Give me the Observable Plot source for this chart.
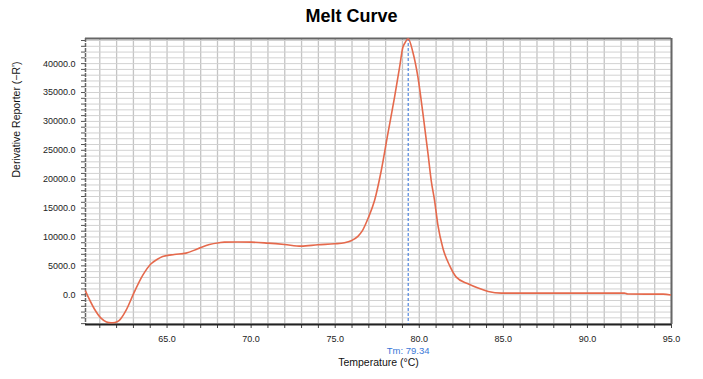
<!DOCTYPE html>
<html>
<head>
<meta charset="utf-8">
<script src="https://cdn.jsdelivr.net/npm/d3@7"></script>
<script src="https://cdn.jsdelivr.net/npm/@observablehq/plot@0.6"></script>
<style>
  html, body { margin: 0; padding: 0; background: #fff; }
  #title { width: 703px; height: 30px; box-sizing: border-box; padding-top: 7px;
    font: bold 18px "Liberation Sans", Arial, sans-serif; line-height: 18px;
    text-align: center; color: #000; }
  #chart svg { display: block; }
</style>
</head>
<body>
<div id="title">Melt Curve</div>
<div id="chart"></div>
<script>
// Temperature (°C) and derivative reporter values
const temps = [60.15, 60.67, 61.07, 61.4, 61.67, 61.9, 62.16, 62.56, 63.05, 63.55, 64.05, 64.4, 64.74, 65.43, 66.13, 66.83, 67.52, 68.1, 68.41, 69.2, 70.0, 71.0, 71.98, 72.98, 73.97, 74.96, 75.55, 75.95, 76.35, 76.6, 76.95, 77.34, 77.74, 78.13, 78.53, 78.83, 79.02, 79.15, 79.34, 79.62, 79.92, 80.22, 80.52, 80.71, 80.91, 81.11, 81.41, 81.8, 82.2, 82.9, 83.5, 84.1, 84.88, 87.86, 92.2, 92.4, 94.5, 95.0];
const deriv = [620, -2420, -4050, -4700, -4850, -4800, -4450, -2720, 450, 3340, 5360, 6100, 6620, 6970, 7200, 7960, 8700, 9000, 9100, 9120, 9100, 8930, 8700, 8410, 8650, 8820, 9000, 9350, 10100, 11000, 13200, 16300, 21500, 27850, 34200, 39400, 42800, 43600, 44300, 41970, 37650, 31300, 24400, 19770, 16300, 12000, 8000, 5070, 3050, 1900, 1150, 570, 280, 280, 280, 120, 100, -50];
const tm = 79.34;
const xLabelTicks = [65, 70, 75, 80, 85, 90, 95];
const yLabelTicks = [0, 5000, 10000, 15000, 20000, 25000, 30000, 35000, 40000];
const xMinorTicks = d3.range(61, 96, 1);
const yMinorTicks = d3.range(-5000, 44001, 1000);
const xDomain = [60.15, 95];
const yDomain = [-5150, 44350];

const data = temps.map((t, i) => ({t, v: deriv[i]}));
const font = '"Liberation Sans", Arial, sans-serif';

const chart = Plot.plot({
  width: 703,
  height: 349,
  marginLeft: 85,
  marginRight: 32,
  marginTop: 8,
  marginBottom: 55,
  style: {fontFamily: font, background: "#fff"},
  x: {domain: xDomain},
  y: {domain: yDomain},
  marks: [
    Plot.gridX(xMinorTicks, {stroke: "#c4c4c4", strokeOpacity: 1, strokeWidth: 1.3}),
    Plot.gridY(yMinorTicks, {stroke: "#d2d2d2", strokeOpacity: 1, strokeWidth: 1}),
    Plot.axisX(xMinorTicks, {tickSize: 4, tickFormat: () => "", stroke: "#444", label: null}),
    Plot.axisX(xLabelTicks, {tickSize: 0, tickPadding: 11, tickFormat: d => d.toFixed(1), fontSize: 9, fill: "#222", label: null}),
    Plot.axisY(yMinorTicks, {tickSize: 4, tickFormat: () => "", stroke: "#555", label: null}),
    Plot.axisY(yLabelTicks, {tickSize: 0, tickPadding: 10, tickFormat: d => d.toFixed(1), fontSize: 9, fill: "#222", label: null}),
    Plot.ruleY([yDomain[1]], {stroke: "#666", strokeWidth: 2}),
    Plot.ruleX([xDomain[1]], {stroke: "#666", strokeWidth: 2}),
    Plot.ruleX([xDomain[0]], {stroke: "#666", strokeWidth: 1.5, strokeDasharray: "4,1"}),
    Plot.ruleY([yDomain[0]], {stroke: "#222", strokeWidth: 2}),
    Plot.ruleX([tm], {stroke: "#2f6fdb", strokeWidth: 1, strokeDasharray: "3,2"}),
    Plot.line(data, {x: "t", y: "v", stroke: "#e5694c", strokeWidth: 1.6, curve: "monotone-x", clip: true}),
    Plot.text([`Tm: ${tm}`], {x: () => tm, frameAnchor: "bottom", dy: 29, fontSize: 9.5, fill: "#3a78d8"}),
    Plot.text(["Temperature (°C)"], {frameAnchor: "bottom", dy: 41, fontSize: 10.5, fill: "#111"}),
    Plot.text(["Derivative Reporter (\u2212R')"], {frameAnchor: "left", rotate: -90, dx: -69, dy: -4, fontSize: 10.5, fill: "#111"})
  ]
});
document.getElementById("chart").appendChild(chart);
</script>
</body>
</html>
